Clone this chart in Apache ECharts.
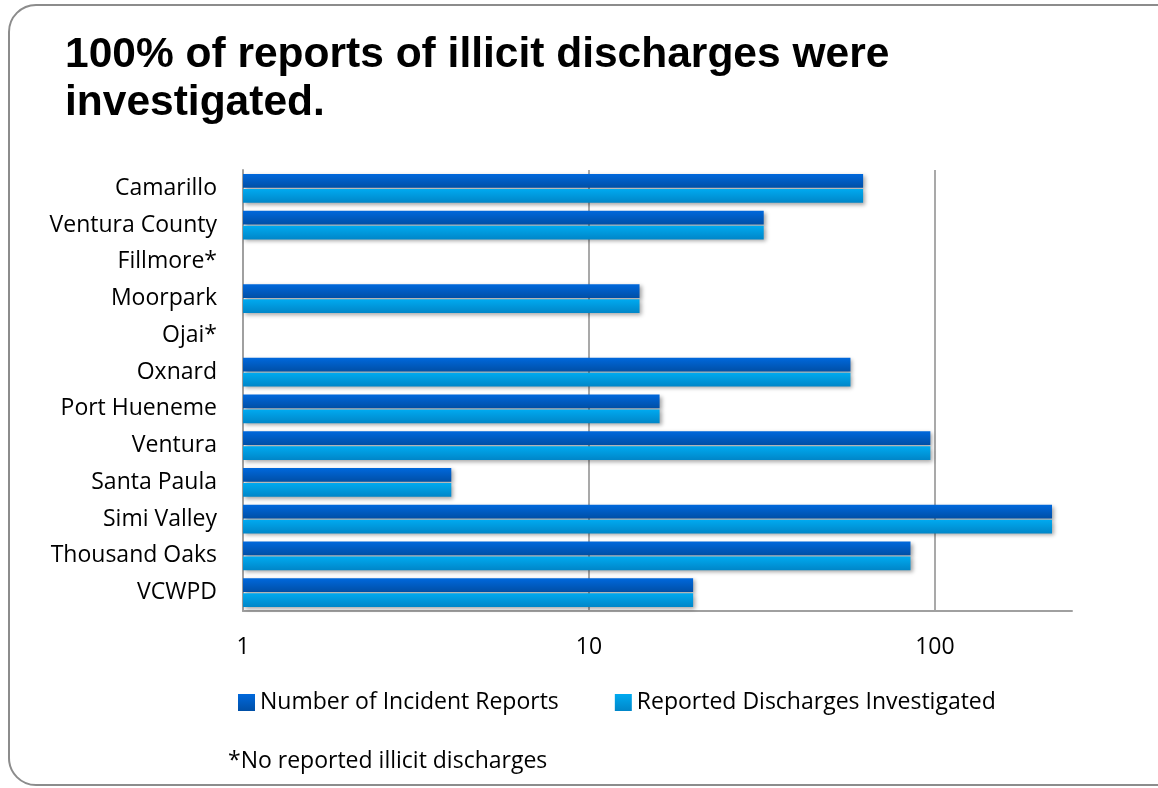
<!DOCTYPE html>
<html>
<head>
<meta charset="utf-8">
<script src="https://cdn.jsdelivr.net/npm/echarts@6/dist/echarts.min.js"></script>
<style>
  html, body { margin: 0; padding: 0; background: #fff; }
  #box {
    position: absolute; left: 8px; top: 4px; width: 1180px; height: 782px;
    border: 2px solid #8c8c8c; border-radius: 28px; box-sizing: border-box;
  }
  #chart { position: absolute; left: 0; top: 0; width: 1158px; height: 788px; }
</style>
</head>
<body>
<div id="box"></div>
<div id="chart"></div>
<script>
// categories top to bottom
var cities = ['Camarillo', 'Ventura County', 'Fillmore*', 'Moorpark', 'Ojai*', 'Oxnard',
  'Port Hueneme', 'Ventura', 'Santa Paula', 'Simi Valley', 'Thousand Oaks', 'VCWPD'];
// '-' = nothing reported (can't be drawn on log axis)
var incidentReports = [62, 32, '-', 14, '-', 57, 16, 97, 4, 218, 85, 20];
var investigated = [62, 32, '-', 14, '-', 57, 16, 97, 4, 218, 85, 20];
var seriesNames = ['Number of Incident Reports', 'Reported Discharges Investigated'];

var labelFont = '"Open Sans", "Noto Sans", sans-serif';

var myChart = echarts.init(document.getElementById('chart'));

function grad(top, bottom) {
  return new echarts.graphic.LinearGradient(0, 0, 0, 1, [
    { offset: 0, color: top },
    { offset: 1, color: bottom }
  ]);
}

var option = {
  animation: false,
  backgroundColor: 'transparent',
  graphic: [
    {
      type: 'text', left: 65, top: 31,
      style: {
        text: '100% of reports of illicit discharges were\ninvestigated.',
        font: 'bold 42.5px "Liberation Sans", Arial, sans-serif',
        lineHeight: 48, fill: '#000'
      }
    },
    {
      type: 'text', left: 228, top: 750,
      style: {
        text: '*No reported illicit discharges',
        font: '23px ' + labelFont, fill: '#000'
      }
    }
  ],
  legend: {
    left: 233, top: 686,
    itemWidth: 17, itemHeight: 17, itemGap: 56,
    icon: 'rect',
    textStyle: { fontFamily: labelFont, fontSize: 23, color: '#000' },
    data: seriesNames
  },
  grid: { left: 243, right: 86, top: 170, bottom: 177, containLabel: false },
  xAxis: {
    type: 'log', logBase: 10, min: 1, max: 249,
    axisLine: { show: true, lineStyle: { color: '#a0a0a0', width: 2 } },
    axisTick: { show: false },
    axisLabel: {
      showMaxLabel: false, margin: 25,
      fontFamily: labelFont, fontSize: 23, color: '#000'
    },
    splitLine: { show: true, showMinLine: false, showMaxLine: false, lineStyle: { color: '#8c8c8c', width: 1.5 } }
  },
  yAxis: {
    type: 'category', inverse: true, data: cities,
    axisLine: { lineStyle: { color: '#a0a0a0', width: 2 } },
    axisTick: { length: 11, lineStyle: { color: '#a0a0a0', width: 1.5 } },
    axisLabel: { margin: 26, fontFamily: labelFont, fontSize: 23, color: '#000' }
  },
  series: [
    {
      name: seriesNames[0], type: 'bar', data: incidentReports,
      barGap: '8%', barCategoryGap: '22%',
      itemStyle: {
        color: grad('#0068dc', '#004fa6'),
        shadowColor: 'rgba(0,0,0,0.35)', shadowBlur: 4, shadowOffsetX: 2, shadowOffsetY: 2
      }
    },
    {
      name: seriesNames[1], type: 'bar', data: investigated,
      barGap: '8%', barCategoryGap: '22%',
      itemStyle: {
        color: grad('#00aaf0', '#0086c8'),
        shadowColor: 'rgba(0,0,0,0.35)', shadowBlur: 4, shadowOffsetX: 2, shadowOffsetY: 2
      }
    }
  ]
};

myChart.setOption(option);
</script>
</body>
</html>
